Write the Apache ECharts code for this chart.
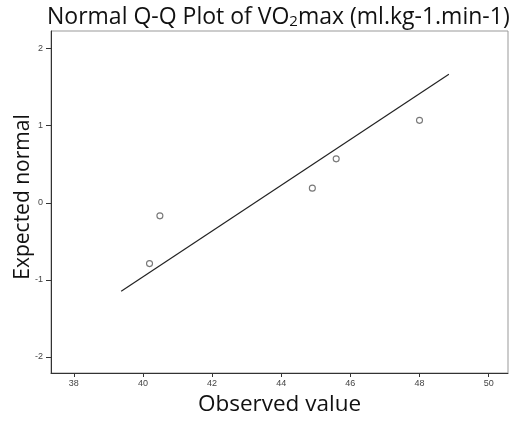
<!DOCTYPE html>
<html>
<head>
<meta charset="utf-8">
<script src="https://cdn.jsdelivr.net/npm/echarts@6/dist/echarts.min.js"></script>
<style>html,body{margin:0;padding:0;background:#fff}#c{width:515px;height:423px}</style>
</head>
<body>
<div id="c"></div>
<script>
var observed = [40.19, 40.49, 44.90, 45.59, 48.00];
var expected = [-0.79, -0.17, 0.19, 0.57, 1.07];
// Reference line endpoints
var lineX = [39.37, 48.85];
var lineY = [-1.148, 1.670];
var xTicks = [38, 40, 42, 44, 46, 48, 50];
var yTicks = [-2, -1, 0, 1, 2];

var pts = observed.map(function (v, i) { return [v, expected[i]]; });
var linePts = lineX.map(function (v, i) { return [v, lineY[i]]; });

var chart = echarts.init(document.getElementById('c'));
chart.setOption({
  animation: false,
  backgroundColor: '#fff',
  title: {
    text: 'Normal Q-Q Plot of VO{sub|2}max (ml.kg-1.min-1)',
    left: 42, top: 0,
    textStyle: {
      fontFamily: 'Open Sans', fontSize: 23, fontWeight: 'normal', color: '#111',
      rich: { sub: { fontFamily: 'Open Sans', fontSize: 15, color: '#111', padding: [9, 0, 0, 0] } }
    }
  },
  grid: {
    left: 51, top: 31, right: 7, bottom: 50,
    containLabel: false, outerBoundsMode: 'none',
    show: true, borderColor: '#999', borderWidth: 1, backgroundColor: '#fff'
  },
  xAxis: {
    type: 'value', min: 37.34, max: 50.56,
    name: 'Observed value', nameLocation: 'middle', nameGap: 20, nameMoveOverlap: false,
    nameTextStyle: { fontFamily: 'Open Sans', fontSize: 22.5, color: '#111' },
    axisLine: { show: true, onZero: false, lineStyle: { color: '#333', width: 1 } },
    axisTick: { show: true, length: 4, customValues: xTicks, lineStyle: { color: '#333' } },
    axisLabel: { customValues: xTicks, fontFamily: 'Arial', fontSize: 9, color: '#444', margin: 6 },
    splitLine: { show: false }
  },
  yAxis: {
    type: 'value', min: -2.21, max: 2.23,
    name: 'Expected normal', nameLocation: 'middle', nameGap: 17, nameRotate: 90, nameMoveOverlap: false,
    nameTextStyle: { fontFamily: 'Open Sans', fontSize: 21, color: '#111', padding: [0, 0, 0, 10] },
    axisLine: { show: true, onZero: false, lineStyle: { color: '#333', width: 1 } },
    axisTick: { show: true, length: 5, customValues: yTicks, lineStyle: { color: '#333' } },
    axisLabel: { customValues: yTicks, fontFamily: 'Arial', fontSize: 9, color: '#444', margin: 8 },
    splitLine: { show: false }
  },
  series: [
    {
      type: 'line', data: linePts, symbol: 'none',
      lineStyle: { color: '#222', width: 1.2 }, z: 2
    },
    {
      type: 'scatter', data: pts, symbol: 'circle', symbolSize: 6,
      itemStyle: { color: '#fff', borderColor: '#555', borderWidth: 1.1 }, z: 3
    }
  ]
});
</script>
</body>
</html>
